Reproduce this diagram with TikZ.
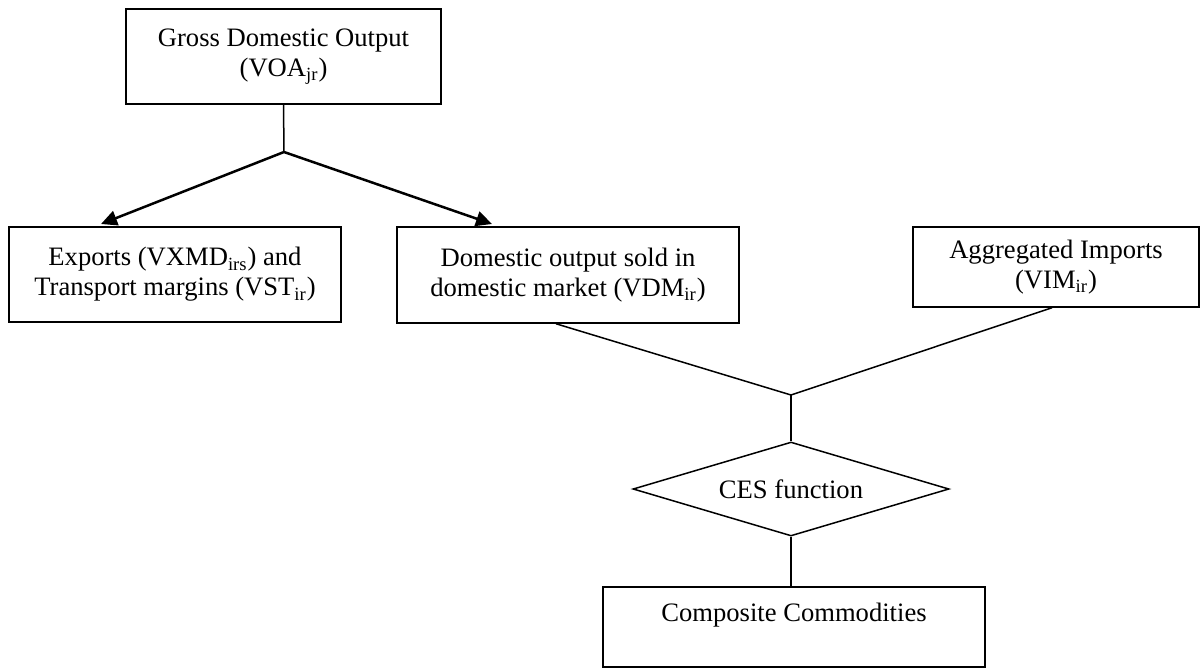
\documentclass[tikz,border=0pt]{standalone}
\usepackage{fontspec}
\setmainfont{Liberation Serif}
\usetikzlibrary{arrows.meta,shapes.geometric}
\begin{document}
\begin{tikzpicture}[x=0.5pt,y=-0.5pt,
  every node/.style={font=\fontsize{13.3pt}{15pt}\selectfont},
  box/.style={draw, line width=0.75pt, align=center, inner sep=0pt},
  choice/.style={draw, line width=0.75pt, diamond, shape aspect=3.36, inner sep=0pt},
  link/.style={line width=0.75pt},
  flow/.style={line width=1.25pt, -{Triangle[length=8pt,width=7.5pt]}},
]
\useasboundingbox (0,0) rectangle (1202,669);

% boxes
\node[box, minimum width=157.5pt, minimum height=47.5pt] (gdo) at (283.5,56.5)
  {Gross Domestic Output\\(VOA\textsubscript{jr})};
\node[box, minimum width=166pt, minimum height=47.5pt] (exp) at (175,274.5)
  {Exports (VXMD\textsubscript{irs}) and\\Transport margins (VST\textsubscript{ir})};
\node[box, minimum width=171pt, minimum height=48pt] (dom) at (568,275)
  {Domestic output sold in\\domestic market (VDM\textsubscript{ir})};
\node[box, minimum width=143pt, minimum height=40pt] (imp) at (1056,267)
  {Aggregated Imports\\(VIM\textsubscript{ir})};
\node[choice, minimum width=158pt, minimum height=47pt] (ces) at (791,489) {CES function};
\node[box, minimum width=191pt, minimum height=40pt] (comp) at (794,627)
  {Composite Commodities\\[0pt]~};

% branch points and arrow ends
\coordinate (split) at (284,152);
\coordinate (tipL) at (101,224);
\coordinate (tipR) at (492,224);
\coordinate (merge) at (791,395);

% connectors
\draw[link] (gdo.south) -- (split);
\draw[flow] (split) -- (tipL);
\draw[flow] (split) -- (tipR);
\draw[link] ([xshift=-6pt]dom.south) -- (merge) -- ([xshift=-2pt]imp.south);
\draw[link] (merge) -- (ces.north);
\draw[link] (ces.south) -- (ces.south |- comp.north);
\end{tikzpicture}
\end{document}
